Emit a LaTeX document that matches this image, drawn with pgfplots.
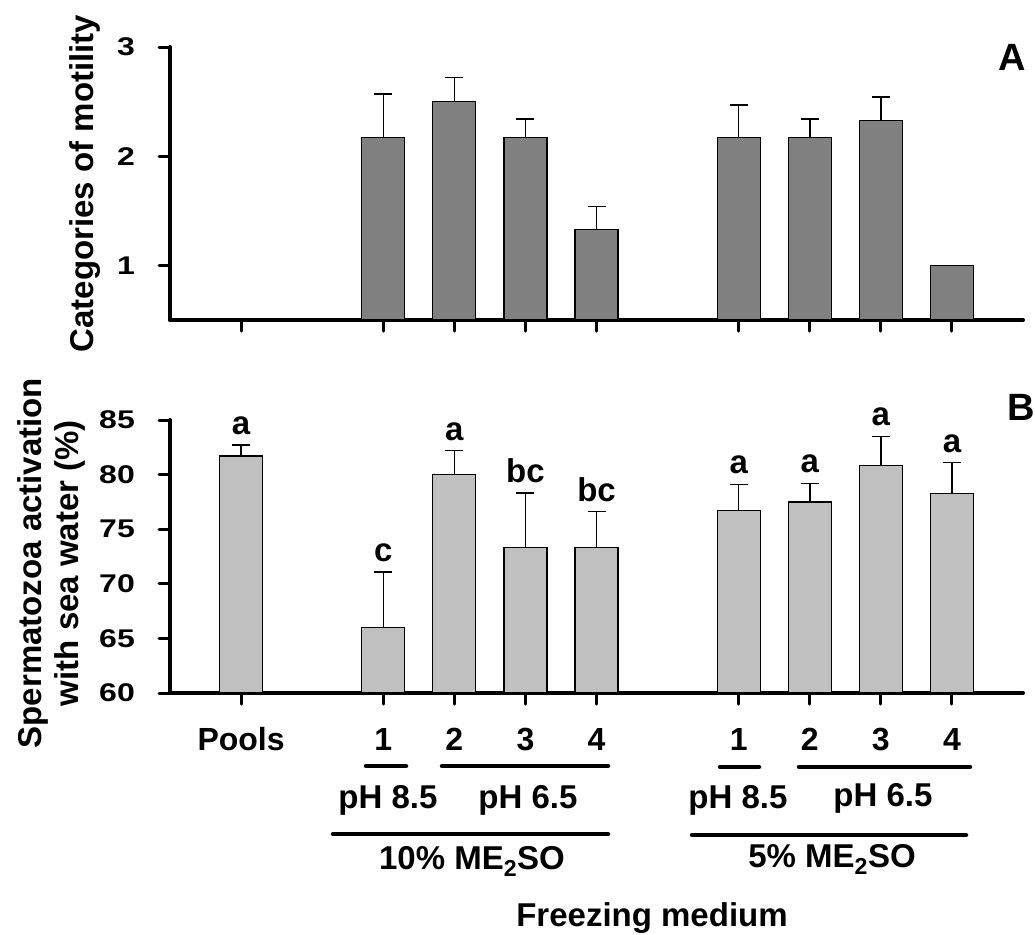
\documentclass[border=0pt]{standalone}
\usepackage{pgfplots}
\usepackage{pgfplotstable}
\pgfplotsset{compat=1.18}
\usepackage{fontspec}
\setmainfont{Liberation Sans}

\definecolor{darkbar}{RGB}{128,128,128}
\definecolor{lightbar}{RGB}{192,192,192}

% Panel A: categories of motility (mean and SD), no pool value
\pgfplotstableread{
x  y     e
2  2.17  0.40
3  2.50  0.22
4  2.17  0.17
5  1.33  0.21
7  2.17  0.30
8  2.17  0.17
9  2.33  0.21
10 1.00  0.00
}\datA

% Panel B: activation with sea water (%), with significance letters
\pgfplotstableread{
x  y     e    l
0  81.7  1.0  a
2  66.0  5.1  c
3  80.0  2.2  a
4  73.3  5.0  bc
5  73.3  3.3  bc
7  76.7  2.4  a
8  77.5  1.7  a
9  80.8  2.7  a
10 78.3  2.8  a
}\datB

\pgfplotsset{
  panel/.style={
    scale only axis, width=853bp, height=273bp,
    xmin=-1, xmax=11,
    axis x line*=bottom, axis y line*=left,
    axis line style={line width=4bp, line cap=round, -},
    tick align=outside, major tick length=11bp,
    every tick/.style={line width=3bp, black, line cap=round},
    xtick={0,2,3,4,5,7,8,9,10},
    /pgf/number format/assume math mode=true,
    yticklabel style={font=\fontsize{32bp}{32bp}\selectfont\bfseries,
      anchor=east, inner sep=0pt, xshift=-24bp, yscale=0.8},
  },
  bars/.style={ybar, bar width=43bp, draw=black, line width=1.2bp,
    error bars/y dir=plus, error bars/y explicit,
    error bars/error bar style={line width=1.5bp, black},
    error bars/error mark options={rotate=90, line width=1.5bp,
      mark size=9bp, black}},
}

\newcommand{\lab}{\fontsize{33bp}{37bp}\selectfont\bfseries}

\begin{document}
\bfseries
\begin{tikzpicture}[x=1bp,y=1bp]
\useasboundingbox (0,0) rectangle (1035,-935);

% ---- Panel A ----
\begin{axis}[panel, at={(170bp,-320bp)}, anchor=south west,
  ymin=0.5, ymax=3, ytick={1,2,3}, xticklabels={},
  ylabel={Categories of motility},
  every axis y label/.style={at={(axis description cs:-0.0997,0.5)},
    rotate=90, anchor=center, font=\lab}]
\addplot[bars, fill=darkbar] table[x=x, y=y, y error=e] {\datA};
\end{axis}

% ---- Panel B ----
\begin{axis}[panel, at={(170bp,-693bp)}, anchor=south west,
  ymin=60, ymax=85, ytick={60,65,...,85},
  xticklabels={Pools,1,2,3,4,1,2,3,4},
  xticklabel style={font=\fontsize{32bp}{32bp}\selectfont\bfseries,
    anchor=base, inner sep=0pt, yshift=-46bp},
  ylabel={Spermatozoa activation\\with sea water (\%)},
  every axis y label/.style={at={(axis description cs:-0.1395,0.476)},
    rotate=90, anchor=center, align=center, font=\lab}]
\addplot[bars, fill=lightbar] table[x=x, y=y, y error=e] {\datB};
\end{axis}

% significance letters above the error bars of panel B
\begin{axis}[scale only axis, width=853bp, height=273bp,
  at={(170bp,-693bp)}, anchor=south west,
  xmin=-1, xmax=11, ymin=60, ymax=85, hide axis, clip=false]
\addplot[only marks, mark=*, mark size=0pt, draw=none, fill=none,
  nodes near coords, point meta=explicit symbolic,
  every node near coord/.append style={anchor=south, inner sep=0pt,
    yshift=10bp, font=\lab, text=black}]
  table[x=x, y expr=\thisrow{y}+\thisrow{e}, meta=l] {\datB};
\end{axis}

% grouping of the freezing media
\begin{scope}[line width=4.5bp, line cap=round]
  \draw (366,-766) -- (406,-766);
  \draw (442,-766) -- (608,-766);
  \draw (333,-834) -- (608,-834);
  \draw (720,-767) -- (759,-767);
  \draw (799,-767) -- (970,-767);
  \draw (692,-835) -- (966,-835);
\end{scope}
\node[anchor=base, inner sep=0pt, font=\lab] at (388,-808) {pH 8.5};
\node[anchor=base, inner sep=0pt, font=\lab] at (528,-808) {pH 6.5};
\node[anchor=base, inner sep=0pt, font=\lab] at (738,-808) {pH 8.5};
\node[anchor=base, inner sep=0pt, font=\lab] at (883,-806) {pH 6.5};
\node[anchor=base, inner sep=0pt, font=\lab] at (472,-869) {10\% ME\textsubscript{2}SO};
\node[anchor=base, inner sep=0pt, font=\lab] at (832,-867) {5\% ME\textsubscript{2}SO};
\node[anchor=base, inner sep=0pt, font=\lab] at (652,-926) {Freezing medium};

% panel letters
\node[anchor=base west, inner sep=0pt, font=\fontsize{38bp}{38bp}\selectfont\bfseries] at (998,-70.7) {A};
\node[anchor=base west, inner sep=0pt, font=\fontsize{38bp}{38bp}\selectfont\bfseries] at (1007,-420.7) {B};
\end{tikzpicture}
\end{document}
